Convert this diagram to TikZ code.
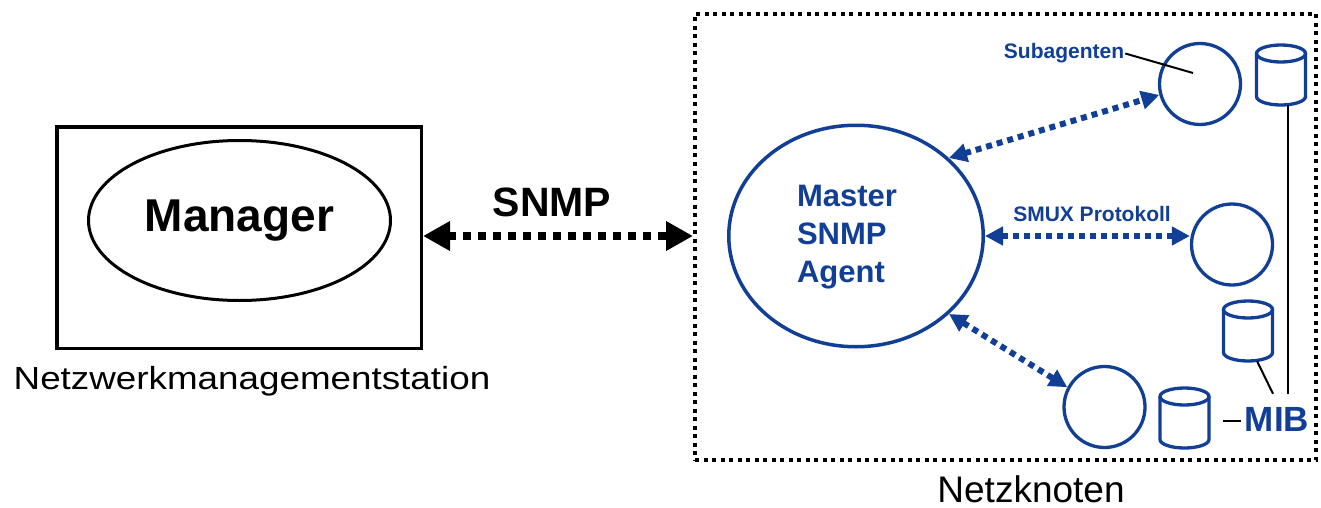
\documentclass[tikz,border=0pt]{standalone}
\usepackage{fontspec}
\setmainfont{Liberation Sans}
\usepackage{graphicx}
\usetikzlibrary{shapes,arrows.meta,positioning}
\definecolor{agentblue}{RGB}{17,63,150}

\begin{document}
\begin{tikzpicture}[x=1pt, y=-1pt, node distance=40pt,
    blueline/.style={draw=agentblue, line width=3.3pt},
    subagent/.style={circle, blueline, minimum size=81pt, inner sep=0pt},
    mibstore/.style={rectangle, inner sep=0pt, outer sep=0pt, minimum width=49pt, minimum height=60pt},
    snmplink/.style={line width=8pt, dash pattern=on 8pt off 7pt, {Triangle[length=27pt,width=28pt]}-{Triangle[length=27pt,width=28pt]}},
    smuxlink/.style={color=agentblue, line width=6pt, dash pattern=on 6pt off 5pt, {Triangle[length=18pt,width=18pt]}-{Triangle[length=18pt,width=18pt]}},
    leader/.style={line width=2pt},
    bluelabel/.style={text=agentblue, font=\fontsize{21}{24}\selectfont\bfseries, inner sep=1pt}]
  \useasboundingbox (0,0) rectangle (1321,508);

  % Netzwerkmanagementstation
  \node[draw, line width=3.5pt, minimum width=364.5pt, minimum height=221.5pt] (mgrbox) at (239,237.5) {};
  \node[draw, ellipse, line width=3pt, minimum width=302pt, minimum height=160pt, inner sep=0pt, font=\fontsize{46}{50}\selectfont\bfseries] (manager) at (239.5,220.5) {Manager};
  \node[below of=mgrbox, node distance=144pt, xshift=13pt, font=\fontsize{32}{36}\selectfont] (station) {\scalebox{1.15}[1]{Netzwerkmanagementstation}};

  % Netzknoten
  \node[draw, line width=4pt, dash pattern=on 4pt off 4.5pt, minimum width=621pt, minimum height=446pt] (knoten) at (1005.5,237) {};
  \node[below of=knoten, node distance=252pt, xshift=25.5pt, inner sep=1pt, font=\fontsize{37}{40}\selectfont] (knotenlabel) {Netzknoten};

  \node[ellipse, blueline, line width=3.5pt, minimum width=254.5pt, minimum height=221.5pt, inner sep=0pt] (agent) at (856,236) {};
  \node[align=left, text=agentblue, font=\fontsize{31}{38}\selectfont\bfseries] (agenttxt) at (847,237) {Master\\SNMP\\Agent};

  \node[subagent] (sub1) at (1200,84) {};
  \node[subagent] (sub2) at (1232,244.5) {};
  \node[subagent] (sub3) at (1104.5,407) {};

  % MIB-Speicher
  \node[mibstore] (db1) at (1281,75) {};
  \node[mibstore] (db2) at (1248,331) {};
  \node[mibstore] (db3) at (1184.5,418) {};
  \foreach \d in {db1,db2,db3}{
    \draw[blueline] ([yshift=-8.5pt]\d.north) ellipse [x radius=24.5pt, y radius=8.5pt];
    \draw[blueline] ([yshift=-8.5pt]\d.north west) -- ([yshift=8.5pt]\d.south west)
      arc [start angle=180, end angle=360, x radius=24.5pt, y radius=8.5pt] -- ([yshift=-8.5pt]\d.north east);
  }

  \node[text=agentblue, font=\fontsize{35}{38}\selectfont\bfseries, inner sep=2pt] (mib) at (1277,419) {MIB};
  \node[bluelabel] (sublabel) at (1064,53.5) {Subagenten};
  \node[bluelabel] (smuxlabel) at (1092,214.3) {SMUX Protokoll};
  \node[font=\fontsize{41}{44}\selectfont\bfseries] (snmplabel) at (552,202) {SNMP};

  % Verbindungen
  \draw[snmplink] (mgrbox.east |- agent) -- (knoten.west |- agent);
  \draw[smuxlink] (agent.40) -- (sub1.195);
  \draw[smuxlink] (agent.east) -- (agent.east -| sub2.west);
  \draw[smuxlink] (agent.-40) -- (sub3.152);

  \draw[leader] (sublabel.east) -- ([xshift=-7pt,yshift=11pt]sub1.center);
  \draw[leader] ([xshift=7pt]db1.south) -- ([xshift=11pt,yshift=11pt]mib.north);
  \draw[leader] ([xshift=9pt]db2.south) -- ([xshift=-4pt,yshift=11pt]mib.north);
  \draw[leader, shorten <=2pt, shorten >=14pt] ([yshift=-2pt]mib.west) -- ([yshift=-2pt]mib.west -| db3.east);
\end{tikzpicture}
\end{document}
